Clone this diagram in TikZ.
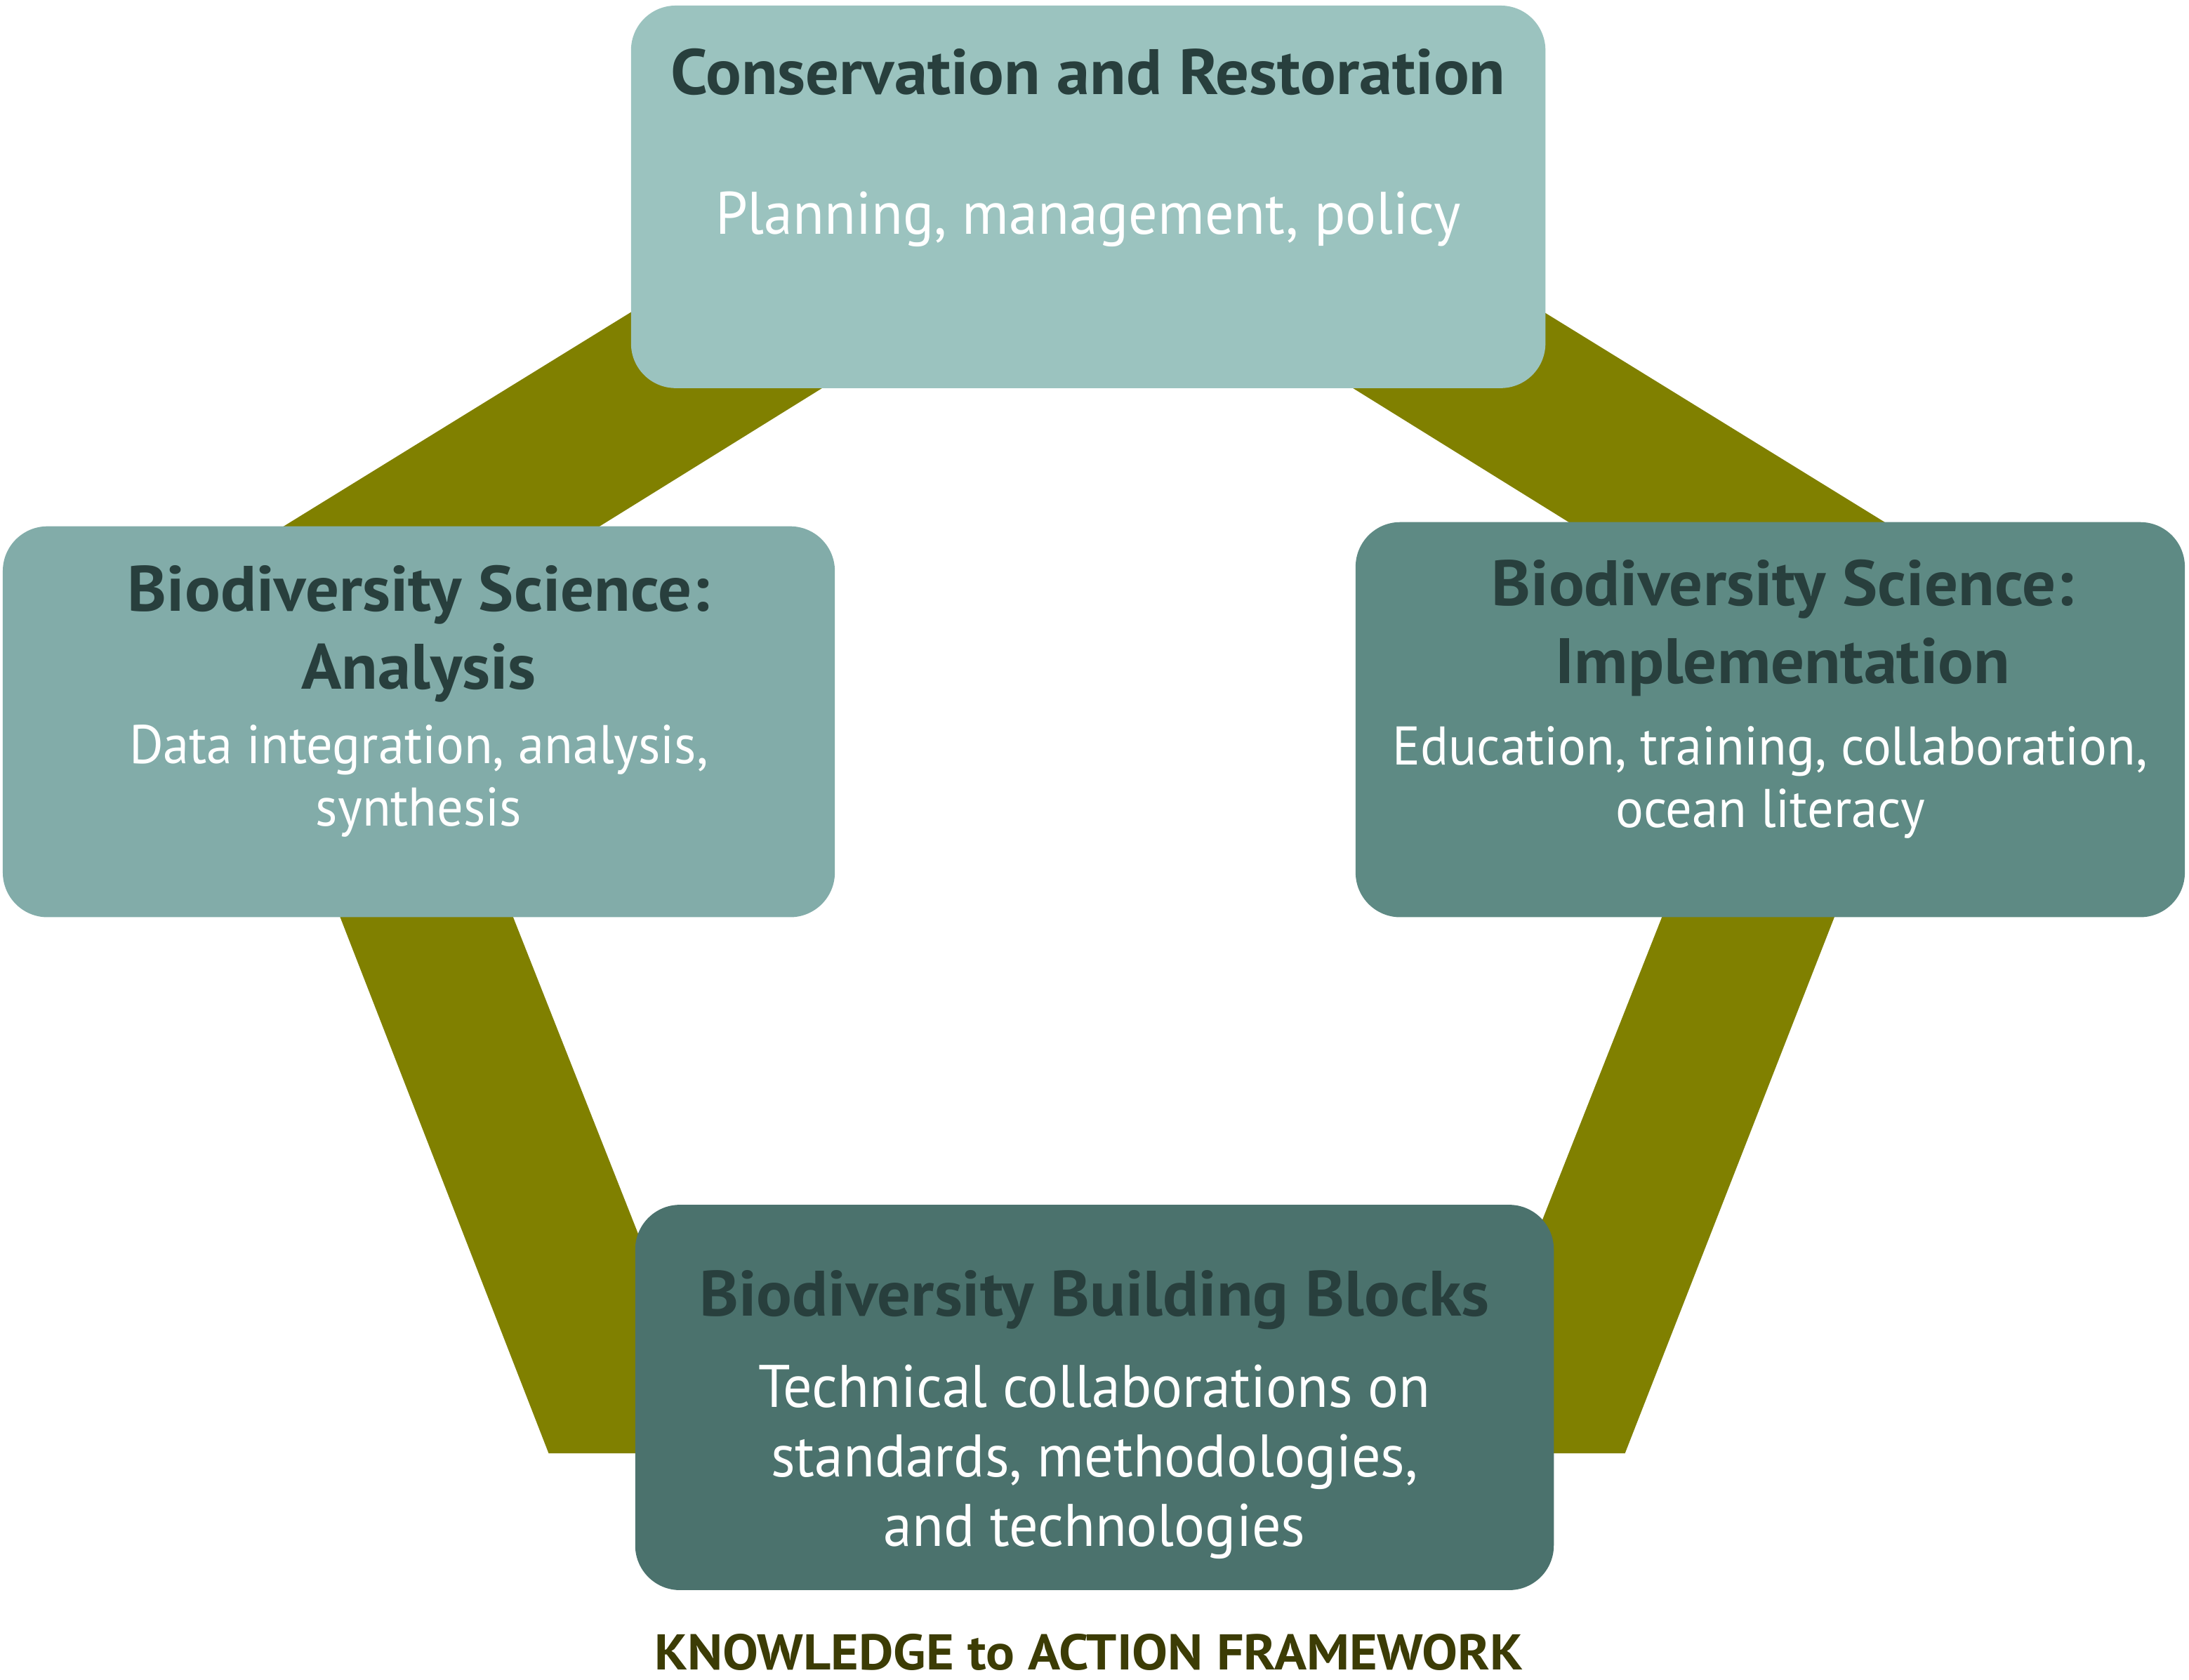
\documentclass[tikz,border=0pt]{standalone}
\usepackage{fontspec}
\setmainfont{PT Sans}[FakeStretch=0.96]
\newfontfamily\headfont{PT Sans}[FakeStretch=1.035]
\newfontfamily\footfont{PT Sans}[FakeStretch=1.065]
\usepackage{xcolor}
\usetikzlibrary{calc}

\definecolor{crfill}{HTML}{9BC3BF}
\definecolor{anfill}{HTML}{82ACA9}
\definecolor{imfill}{HTML}{5E8A84}
\definecolor{bbfill}{HTML}{4B726D}
\definecolor{ringolive}{HTML}{808000}
\definecolor{headdark}{HTML}{283F3D}
\definecolor{footdark}{HTML}{3C3C05}

\begin{document}
\begin{tikzpicture}[x=1pt, y=-1pt,
  box/.style={rounded corners=32pt, inner sep=0pt},
  head/.style={font=\headfont\bfseries\fontsize{46}{56}\selectfont, text=headdark, align=center, anchor=base, inner sep=0pt},
  body/.style={font=\fontsize{39}{45}\selectfont, text=white, align=center, anchor=base, inner sep=0pt},
  bigbody/.style={font=\fontsize{43}{50}\selectfont, text=white, align=center, anchor=base, inner sep=0pt}]
\useasboundingbox (0,0) rectangle (1568,1203);
% ring behind the boxes
\fill[ringolive, even odd rule]
  (779,22) -- (1410,411) -- (1164,1041) -- (393,1041) -- (148,411) -- cycle
  (779,160) -- (1267,463) -- (1085,924) -- (473,924) -- (291,463) -- cycle;
% boxes
\node[box, fill=crfill, minimum width=655pt, minimum height=274pt] (cons) at (779.5,141) {};
\node[box, fill=anfill, minimum width=596pt, minimum height=280pt] (anal) at (300,517) {};
\node[box, fill=imfill, minimum width=594pt, minimum height=283pt] (impl) at (1268,515.5) {};
\node[box, fill=bbfill, minimum width=658pt, minimum height=276pt] (build) at (784,1001) {};
% texts (base = last line)
\node[head] (conshead) at ($(cons.north)+(0,64)$) {Conservation and Restoration};
\node[bigbody] (consbody) at ($(cons.north)+(0,164)$) {Planning, management, policy};
\node[head] (analhead) at ($(anal.north)+(0,117)$) {Biodiversity Science:\\Analysis};
\node[body] (analbody) at ($(anal.north)+(0,215)$) {Data integration, analysis,\\synthesis};
\node[head] (implhead) at ($(impl.north)+(9,116)$) {Biodiversity Science:\\Implementation};
\node[body] (implbody) at ($(impl.north)+(0,219)$) {Education, training, collaboration,\\ocean literacy};
\node[head] (buildhead) at ($(build.north)+(0,80)$) {Biodiversity Building Blocks};
\node[bigbody] (buildbody) at ($(build.north)+(0,245)$) {Technical collaborations on\\standards, methodologies,\\and technologies};
\node[font=\footfont\bfseries\fontsize{36}{40}\selectfont, text=footdark, anchor=base, inner sep=0pt] (frame) at (780,1196) {KNOWLEDGE to ACTION FRAMEWORK};
\end{tikzpicture}
\end{document}
